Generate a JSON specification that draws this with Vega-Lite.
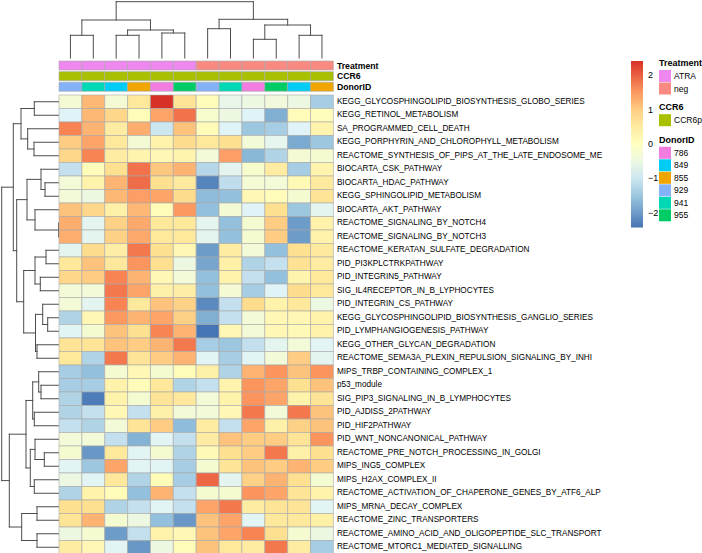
{
 "$schema": "https://vega.github.io/schema/vega-lite/v6.json",
 "padding": 0,
 "background": "white",
 "columns": 2,
 "spacing": {"row": 2.5, "column": 0},
 "bounds": "flush",
 "resolve": {"scale": {"color": "independent"}, "legend": {"color": "independent"}},
 "config": {"view": {"stroke": null}, "font": "Liberation Sans"},
 "concat": [
  {"width": 58, "height": 57, "data": {"values": []}, "mark": "point"},
  {
   "width": 274.4, "height": 57,
   "data": {"values": [
    {"c1":1,"c2":2,"h1":22.7,"h2":22.7},{"c1":1,"c2":1,"h1":0,"h2":22.7},{"c1":2,"c2":2,"h1":0,"h2":22.7},
    {"c1":3,"c2":4,"h1":22.7,"h2":22.7},{"c1":3,"c2":3,"h1":0,"h2":22.7},{"c1":4,"c2":4,"h1":0,"h2":22.7},
    {"c1":5,"c2":6,"h1":25,"h2":25},{"c1":5,"c2":5,"h1":0,"h2":25},{"c1":6,"c2":6,"h1":0,"h2":25},
    {"c1":3.5,"c2":5.5,"h1":28,"h2":28},{"c1":3.5,"c2":3.5,"h1":22.7,"h2":28},{"c1":5.5,"c2":5.5,"h1":25,"h2":28},
    {"c1":1.5,"c2":4.5,"h1":38,"h2":38},{"c1":1.5,"c2":1.5,"h1":22.7,"h2":38},{"c1":4.5,"c2":4.5,"h1":28,"h2":38},
    {"c1":7,"c2":8,"h1":29.3,"h2":29.3},{"c1":7,"c2":7,"h1":0,"h2":29.3},{"c1":8,"c2":8,"h1":0,"h2":29.3},
    {"c1":9,"c2":10,"h1":18.7,"h2":18.7},{"c1":9,"c2":9,"h1":0,"h2":18.7},{"c1":10,"c2":10,"h1":0,"h2":18.7},
    {"c1":11,"c2":12,"h1":22.7,"h2":22.7},{"c1":11,"c2":11,"h1":0,"h2":22.7},{"c1":12,"c2":12,"h1":0,"h2":22.7},
    {"c1":9.5,"c2":11.5,"h1":33,"h2":33},{"c1":9.5,"c2":9.5,"h1":18.7,"h2":33},{"c1":11.5,"c2":11.5,"h1":22.7,"h2":33},
    {"c1":7.5,"c2":10.5,"h1":38.7,"h2":38.7},{"c1":7.5,"c2":7.5,"h1":29.3,"h2":38.7},{"c1":10.5,"c2":10.5,"h1":33,"h2":38.7},
    {"c1":3,"c2":9,"h1":56.3,"h2":56.3},{"c1":3,"c2":3,"h1":38,"h2":56.3},{"c1":9,"c2":9,"h1":38.7,"h2":56.3}
   ]},
   "mark": {"type": "rule", "color": "#4d4d4d", "strokeWidth": 1, "strokeCap": "square"},
   "encoding": {
    "x": {"field": "c1", "type": "quantitative", "scale": {"domain": [0.5, 12.5], "nice": false, "zero": false}, "axis": null},
    "x2": {"field": "c2"},
    "y": {"field": "h1", "type": "quantitative", "scale": {"domain": [0, 57], "nice": false, "zero": false}, "axis": null},
    "y2": {"field": "h2"}
   }
  },
  {"width": 58, "height": 31.3, "data": {"values": []}, "mark": "point"},
  {
   "width": 274.4, "height": 31.3,
   "data": {"values": [
    {"sample":"S01","Treatment":"ATRA","CCR6":"CCR6p","DonorID":"929"},
    {"sample":"S02","Treatment":"ATRA","CCR6":"CCR6p","DonorID":"941"},
    {"sample":"S03","Treatment":"ATRA","CCR6":"CCR6p","DonorID":"849"},
    {"sample":"S04","Treatment":"ATRA","CCR6":"CCR6p","DonorID":"855"},
    {"sample":"S05","Treatment":"ATRA","CCR6":"CCR6p","DonorID":"786"},
    {"sample":"S06","Treatment":"ATRA","CCR6":"CCR6p","DonorID":"955"},
    {"sample":"S07","Treatment":"neg","CCR6":"CCR6p","DonorID":"929"},
    {"sample":"S08","Treatment":"neg","CCR6":"CCR6p","DonorID":"941"},
    {"sample":"S09","Treatment":"neg","CCR6":"CCR6p","DonorID":"786"},
    {"sample":"S10","Treatment":"neg","CCR6":"CCR6p","DonorID":"955"},
    {"sample":"S11","Treatment":"neg","CCR6":"CCR6p","DonorID":"849"},
    {"sample":"S12","Treatment":"neg","CCR6":"CCR6p","DonorID":"855"}
   ]},
   "encoding": {
    "x": {"field": "sample", "type": "nominal", "scale": {"paddingInner": 0, "paddingOuter": 0}, "axis": null}
   },
   "layer": [
    {
     "mark": {"type": "rect", "stroke": "#a8a8a8", "strokeWidth": 0.6},
     "encoding": {
      "y": {"datum": "Treatment", "type": "nominal", "scale": {"domain": ["Treatment", "CCR6", "DonorID"], "paddingInner": 0.15, "paddingOuter": 0.05},
            "axis": {"orient": "right", "title": null, "ticks": false, "domain": false, "labelPadding": 3, "labelFontSize": 8.7, "labelFontWeight": "bold", "labelColor": "#000"}},
      "color": {"field": "Treatment", "type": "nominal", "scale": {"domain": ["ATRA", "neg"], "range": ["#EE88EE", "#F88A82"]},
                "legend": {"orient": "none", "legendX": 600, "legendY": -1.5, "title": "Treatment", "titleFontSize": 9, "titleFontWeight": "bold", "titleColor": "#000", "titlePadding": 2, "labelFontSize": 8.5, "labelColor": "#000", "symbolType": "square", "symbolSize": 144, "symbolStrokeWidth": 0, "symbolOpacity": 1, "rowPadding": 0.5, "labelOffset": 3, "padding": 0}}
     }
    },
    {
     "mark": {"type": "rect", "stroke": "#a8a8a8", "strokeWidth": 0.6},
     "encoding": {
      "y": {"datum": "CCR6", "type": "nominal", "scale": {"domain": ["Treatment", "CCR6", "DonorID"], "paddingInner": 0.15, "paddingOuter": 0.05},
            "axis": {"orient": "right", "title": null, "ticks": false, "domain": false, "labelPadding": 3, "labelFontSize": 8.7, "labelFontWeight": "bold", "labelColor": "#000"}},
      "color": {"field": "CCR6", "type": "nominal", "scale": {"domain": ["CCR6p"], "range": ["#A8C000"]},
                "legend": {"orient": "none", "legendX": 600, "legendY": 42.7, "title": "CCR6", "titleFontSize": 9, "titleFontWeight": "bold", "titleColor": "#000", "titlePadding": 2, "labelFontSize": 8.5, "labelColor": "#000", "symbolType": "square", "symbolSize": 144, "symbolStrokeWidth": 0, "symbolOpacity": 1, "rowPadding": 0.5, "labelOffset": 3, "padding": 0}}
     }
    },
    {
     "mark": {"type": "rect", "stroke": "#a8a8a8", "strokeWidth": 0.6},
     "encoding": {
      "y": {"datum": "DonorID", "type": "nominal", "scale": {"domain": ["Treatment", "CCR6", "DonorID"], "paddingInner": 0.15, "paddingOuter": 0.05},
            "axis": {"orient": "right", "title": null, "ticks": false, "domain": false, "labelPadding": 3, "labelFontSize": 8.7, "labelFontWeight": "bold", "labelColor": "#000"}},
      "color": {"field": "DonorID", "type": "nominal", "scale": {"domain": ["786", "849", "855", "929", "941", "955"], "range": ["#F27CE0", "#00CCF5", "#F0A500", "#84B2F8", "#00D8B5", "#00CC66"]},
                "legend": {"orient": "none", "legendX": 600, "legendY": 75.3, "title": "DonorID", "titleFontSize": 9, "titleFontWeight": "bold", "titleColor": "#000", "titlePadding": 2, "labelFontSize": 8.5, "labelColor": "#000", "symbolType": "square", "symbolSize": 144, "symbolStrokeWidth": 0, "symbolOpacity": 1, "rowPadding": 0.5, "labelOffset": 3, "padding": 0}}
     }
    }
   ],
   "resolve": {"scale": {"color": "independent"}, "legend": {"color": "independent"}}
  },
  {
   "width": 58, "height": 459,
   "data": {"values": [
    {"h1":24.7,"h2":24.7,"r1":1,"r2":2},{"h1":0,"h2":24.7,"r1":1,"r2":1},{"h1":0,"h2":24.7,"r1":2,"r2":2},
    {"h1":25,"h2":25,"r1":4,"r2":5},{"h1":0,"h2":25,"r1":4,"r2":4},{"h1":0,"h2":25,"r1":5,"r2":5},
    {"h1":31.3,"h2":31.3,"r1":3,"r2":4.5},{"h1":0,"h2":31.3,"r1":3,"r2":3},{"h1":25,"h2":31.3,"r1":4.5,"r2":4.5},
    {"h1":38,"h2":38,"r1":1.5,"r2":3.75},{"h1":24.7,"h2":38,"r1":1.5,"r2":1.5},{"h1":31.3,"h2":38,"r1":3.75,"r2":3.75},
    {"h1":14,"h2":14,"r1":7,"r2":8},{"h1":0,"h2":14,"r1":7,"r2":7},{"h1":0,"h2":14,"r1":8,"r2":8},
    {"h1":18,"h2":18,"r1":6,"r2":7.5},{"h1":0,"h2":18,"r1":6,"r2":6},{"h1":14,"h2":18,"r1":7.5,"r2":7.5},
    {"h1":0.4,"h2":0.4,"r1":10,"r2":11},{"h1":0,"h2":0.4,"r1":10,"r2":10},{"h1":0,"h2":0.4,"r1":11,"r2":11},
    {"h1":24,"h2":24,"r1":9,"r2":10.5},{"h1":0,"h2":24,"r1":9,"r2":9},{"h1":0.4,"h2":24,"r1":10.5,"r2":10.5},
    {"h1":32,"h2":32,"r1":6.75,"r2":9.75},{"h1":18,"h2":32,"r1":6.75,"r2":6.75},{"h1":24,"h2":32,"r1":9.75,"r2":9.75},
    {"h1":13,"h2":13,"r1":12,"r2":13},{"h1":0,"h2":13,"r1":12,"r2":12},{"h1":0,"h2":13,"r1":13,"r2":13},
    {"h1":18.7,"h2":18.7,"r1":14,"r2":15},{"h1":0,"h2":18.7,"r1":14,"r2":14},{"h1":0,"h2":18.7,"r1":15,"r2":15},
    {"h1":24,"h2":24,"r1":12.5,"r2":14.5},{"h1":13,"h2":24,"r1":12.5,"r2":12.5},{"h1":18.7,"h2":24,"r1":14.5,"r2":14.5},
    {"h1":11.3,"h2":11.3,"r1":17,"r2":18},{"h1":0,"h2":11.3,"r1":17,"r2":17},{"h1":0,"h2":11.3,"r1":18,"r2":18},
    {"h1":16.3,"h2":16.3,"r1":16,"r2":17.5},{"h1":0,"h2":16.3,"r1":16,"r2":16},{"h1":11.3,"h2":16.3,"r1":17.5,"r2":17.5},
    {"h1":22,"h2":22,"r1":19,"r2":20},{"h1":0,"h2":22,"r1":19,"r2":19},{"h1":0,"h2":22,"r1":20,"r2":20},
    {"h1":23.5,"h2":23.5,"r1":16.75,"r2":19.5},{"h1":16.3,"h2":23.5,"r1":16.75,"r2":16.75},{"h1":22,"h2":23.5,"r1":19.5,"r2":19.5},
    {"h1":35.3,"h2":35.3,"r1":13.5,"r2":18.125},{"h1":24,"h2":35.3,"r1":13.5,"r2":13.5},{"h1":23.5,"h2":35.3,"r1":18.125,"r2":18.125},
    {"h1":42.3,"h2":42.3,"r1":8.25,"r2":15.8125},{"h1":32,"h2":42.3,"r1":8.25,"r2":8.25},{"h1":35.3,"h2":42.3,"r1":15.8125,"r2":15.8125},
    {"h1":45.7,"h2":45.7,"r1":2.625,"r2":12.03125},{"h1":38,"h2":45.7,"r1":2.625,"r2":2.625},{"h1":42.3,"h2":45.7,"r1":12.03125,"r2":12.03125},
    {"h1":18,"h2":18,"r1":22,"r2":23},{"h1":0,"h2":18,"r1":22,"r2":22},{"h1":0,"h2":18,"r1":23,"r2":23},
    {"h1":20.3,"h2":20.3,"r1":21,"r2":22.5},{"h1":0,"h2":20.3,"r1":21,"r2":21},{"h1":18,"h2":20.3,"r1":22.5,"r2":22.5},
    {"h1":24.7,"h2":24.7,"r1":24,"r2":25},{"h1":0,"h2":24.7,"r1":24,"r2":24},{"h1":0,"h2":24.7,"r1":25,"r2":25},
    {"h1":26.3,"h2":26.3,"r1":21.75,"r2":24.5},{"h1":20.3,"h2":26.3,"r1":21.75,"r2":21.75},{"h1":24.7,"h2":26.3,"r1":24.5,"r2":24.5},
    {"h1":14.7,"h2":14.7,"r1":27,"r2":28},{"h1":0,"h2":14.7,"r1":27,"r2":27},{"h1":0,"h2":14.7,"r1":28,"r2":28},
    {"h1":24,"h2":24,"r1":26,"r2":27.5},{"h1":0,"h2":24,"r1":26,"r2":26},{"h1":14.7,"h2":24,"r1":27.5,"r2":27.5},
    {"h1":24.7,"h2":24.7,"r1":29,"r2":30},{"h1":0,"h2":24.7,"r1":29,"r2":29},{"h1":0,"h2":24.7,"r1":30,"r2":30},
    {"h1":28.7,"h2":28.7,"r1":26.75,"r2":29.5},{"h1":24,"h2":28.7,"r1":26.75,"r2":26.75},{"h1":24.7,"h2":28.7,"r1":29.5,"r2":29.5},
    {"h1":33,"h2":33,"r1":23.125,"r2":28.125},{"h1":26.3,"h2":33,"r1":23.125,"r2":23.125},{"h1":28.7,"h2":33,"r1":28.125,"r2":28.125},
    {"h1":22,"h2":22,"r1":31,"r2":32},{"h1":0,"h2":22,"r1":31,"r2":31},{"h1":0,"h2":22,"r1":32,"r2":32},
    {"h1":22,"h2":22,"r1":33,"r2":34},{"h1":0,"h2":22,"r1":33,"r2":33},{"h1":0,"h2":22,"r1":34,"r2":34},
    {"h1":37.3,"h2":37.3,"r1":31.5,"r2":33.5},{"h1":22,"h2":37.3,"r1":31.5,"r2":31.5},{"h1":22,"h2":37.3,"r1":33.5,"r2":33.5},
    {"h1":49.7,"h2":49.7,"r1":25.625,"r2":32.5},{"h1":33,"h2":49.7,"r1":25.625,"r2":25.625},{"h1":37.3,"h2":49.7,"r1":32.5,"r2":32.5},
    {"h1":57.3,"h2":57.3,"r1":7.328125,"r2":29.0625},{"h1":45.7,"h2":57.3,"r1":7.328125,"r2":7.328125},{"h1":49.7,"h2":57.3,"r1":29.0625,"r2":29.0625}
   ]},
   "mark": {"type": "rule", "color": "#4d4d4d", "strokeWidth": 1, "strokeCap": "square"},
   "encoding": {
    "x": {"field": "h1", "type": "quantitative", "scale": {"domain": [0, 58], "reverse": true, "nice": false, "zero": false}, "axis": null},
    "x2": {"field": "h2"},
    "y": {"field": "r1", "type": "quantitative", "scale": {"domain": [0.5, 34.5], "reverse": true, "nice": false, "zero": false}, "axis": null},
    "y2": {"field": "r2"}
   }
  },
  {
   "width": 274.4, "height": 459,
   "data": {"values": [
    {"pathway":"KEGG_GLYCOSPHINGOLIPID_BIOSYNTHESIS_GLOBO_SERIES","S01":-0.3,"S02":1.2,"S03":-0.3,"S04":0.6,"S05":2.42,"S06":0.7,"S07":0.1,"S08":-0.6,"S09":-0.5,"S10":-0.4,"S11":-0.5,"S12":-1.4},
    {"pathway":"KEGG_RETINOL_METABOLISM","S01":-0.8,"S02":1.2,"S03":0.9,"S04":0.1,"S05":1.4,"S06":1.85,"S07":-0.2,"S08":-0.5,"S09":-0.8,"S10":-1.8,"S11":0.1,"S12":0.05},
    {"pathway":"SA_PROGRAMMED_CELL_DEATH","S01":1.7,"S02":1.25,"S03":0.5,"S04":1.3,"S05":-1.0,"S06":1.1,"S07":0.1,"S08":-0.8,"S09":-1.5,"S10":-1.4,"S11":-0.8,"S12":0.3},
    {"pathway":"KEGG_PORPHYRIN_AND_CHLOROPHYLL_METABOLISM","S01":1.0,"S02":1.4,"S03":0.6,"S04":-0.3,"S05":0.35,"S06":0.85,"S07":0.6,"S08":0.8,"S09":-0.35,"S10":-0.65,"S11":-1.85,"S12":-1.5},
    {"pathway":"REACTOME_SYNTHESIS_OF_PIPS_AT_THE_LATE_ENDOSOME_ME","S01":0.9,"S02":1.7,"S03":0.5,"S04":0.3,"S05":0.2,"S06":0.3,"S07":-0.35,"S08":1.45,"S09":-1.7,"S10":-1.3,"S11":-0.3,"S12":-0.25},
    {"pathway":"BIOCARTA_CSK_PATHWAY","S01":-1.1,"S02":0.1,"S03":0.8,"S04":1.85,"S05":1.05,"S06":1.25,"S07":-1.25,"S08":-0.7,"S09":-0.2,"S10":0.5,"S11":-1.4,"S12":0.3},
    {"pathway":"BIOCARTA_HDAC_PATHWAY","S01":-0.35,"S02":0.35,"S03":1.25,"S04":1.9,"S05":0.8,"S06":0.55,"S07":-2.25,"S08":-1.15,"S09":-0.3,"S10":-0.35,"S11":0.15,"S12":0.55},
    {"pathway":"KEGG_SPHINGOLIPID_METABOLISM","S01":-0.35,"S02":-0.5,"S03":1.2,"S04":1.45,"S05":1.4,"S06":0.85,"S07":-1.65,"S08":-1.6,"S09":0.2,"S10":0.1,"S11":-0.25,"S12":0.7},
    {"pathway":"BIOCARTA_AKT_PATHWAY","S01":1.1,"S02":0.9,"S03":0.4,"S04":1.2,"S05":0.1,"S06":1.5,"S07":-1.6,"S08":-0.3,"S09":-0.8,"S10":0.8,"S11":-1.5,"S12":-0.7},
    {"pathway":"REACTOME_SIGNALING_BY_NOTCH4","S01":1.3,"S02":-0.7,"S03":0.95,"S04":1.35,"S05":0.6,"S06":0.6,"S07":-0.7,"S08":-1.6,"S09":-0.25,"S10":1.0,"S11":-2.0,"S12":0.35},
    {"pathway":"REACTOME_SIGNALING_BY_NOTCH3","S01":1.3,"S02":-0.7,"S03":0.95,"S04":1.35,"S05":0.6,"S06":0.6,"S07":-0.7,"S08":-1.6,"S09":-0.25,"S10":1.0,"S11":-2.0,"S12":0.35},
    {"pathway":"REACTOME_KERATAN_SULFATE_DEGRADATION","S01":-0.7,"S02":0.85,"S03":0.45,"S04":1.8,"S05":0.8,"S06":0.2,"S07":-2.0,"S08":0.5,"S09":-0.35,"S10":-1.6,"S11":0.8,"S12":0.55},
    {"pathway":"PID_PI3KPLCTRKPATHWAY","S01":0.6,"S02":1.1,"S03":0.6,"S04":1.55,"S05":0.8,"S06":-0.5,"S07":-1.9,"S08":0.4,"S09":-1.3,"S10":-1.1,"S11":0.75,"S12":0.5},
    {"pathway":"PID_INTEGRIN5_PATHWAY","S01":0.9,"S02":1.0,"S03":1.7,"S04":1.25,"S05":0.2,"S06":-0.35,"S07":-1.6,"S08":0.35,"S09":-1.1,"S10":-1.6,"S11":0.3,"S12":0.6},
    {"pathway":"SIG_IL4RECEPTOR_IN_B_LYPHOCYTES","S01":-0.35,"S02":-0.35,"S03":1.8,"S04":1.4,"S05":0.4,"S06":0.45,"S07":-1.6,"S08":-0.3,"S09":-1.4,"S10":-0.8,"S11":0.85,"S12":0.6},
    {"pathway":"PID_INTEGRIN_CS_PATHWAY","S01":-0.35,"S02":-0.7,"S03":1.7,"S04":0.6,"S05":1.1,"S06":0.95,"S07":-2.2,"S08":-1.1,"S09":0.85,"S10":0.35,"S11":0.6,"S12":-0.5},
    {"pathway":"KEGG_GLYCOSPHINGOLIPID_BIOSYNTHESIS_GANGLIO_SERIES","S01":-1.3,"S02":0.2,"S03":1.5,"S04":1.25,"S05":1.4,"S06":0.95,"S07":-1.8,"S08":-1.1,"S09":-0.35,"S10":0.2,"S11":0.2,"S12":0.35},
    {"pathway":"PID_LYMPHANGIOGENESIS_PATHWAY","S01":-0.75,"S02":-0.25,"S03":1.1,"S04":0.8,"S05":1.7,"S06":1.25,"S07":-2.43,"S08":0.2,"S09":-0.35,"S10":0.2,"S11":0.15,"S12":0.35},
    {"pathway":"KEGG_OTHER_GLYCAN_DEGRADATION","S01":0.7,"S02":0.7,"S03":1.1,"S04":1.0,"S05":1.25,"S06":1.8,"S07":-1.4,"S08":-1.5,"S09":-1.1,"S10":-0.7,"S11":-0.35,"S12":-0.75},
    {"pathway":"REACTOME_SEMA3A_PLEXIN_REPULSION_SIGNALING_BY_INHI","S01":0.6,"S02":-1.3,"S03":1.8,"S04":0.7,"S05":1.0,"S06":1.25,"S07":-0.75,"S08":-1.4,"S09":-0.75,"S10":-0.35,"S11":1.0,"S12":-0.7},
    {"pathway":"MIPS_TRBP_CONTAINING_COMPLEX_1","S01":-1.4,"S02":-1.6,"S03":-0.25,"S04":0.2,"S05":-0.25,"S06":0.1,"S07":0.4,"S08":-1.3,"S09":1.25,"S10":1.55,"S11":1.1,"S12":1.55},
    {"pathway":"p53_module","S01":-1.4,"S02":-1.4,"S03":0.35,"S04":0.1,"S05":0.6,"S06":-1.3,"S07":-1.1,"S08":0.3,"S09":1.55,"S10":1.4,"S11":0.8,"S12":1.1},
    {"pathway":"SIG_PIP3_SIGNALING_IN_B_LYMPHOCYTES","S01":-1.3,"S02":-2.35,"S03":0.35,"S04":-0.25,"S05":0.7,"S06":0.6,"S07":-0.35,"S08":0.35,"S09":1.55,"S10":1.4,"S11":0.35,"S12":0.7},
    {"pathway":"PID_AJDISS_2PATHWAY","S01":-1.3,"S02":-1.1,"S03":0.2,"S04":-1.1,"S05":0.4,"S06":-0.35,"S07":-0.35,"S08":0.2,"S09":1.8,"S10":-0.35,"S11":1.8,"S12":1.1},
    {"pathway":"PID_HIF2PATHWAY","S01":-1.1,"S02":-1.3,"S03":-0.35,"S04":0.7,"S05":1.0,"S06":-1.65,"S07":0.5,"S08":-1.1,"S09":1.4,"S10":0.4,"S11":0.95,"S12":1.1},
    {"pathway":"PID_WNT_NONCANONICAL_PATHWAY","S01":-0.35,"S02":-0.35,"S03":-1.1,"S04":-1.75,"S05":-0.75,"S06":-1.1,"S07":0.5,"S08":1.1,"S09":1.0,"S10":1.0,"S11":0.7,"S12":1.55},
    {"pathway":"REACTOME_PRE_NOTCH_PROCESSING_IN_GOLGI","S01":-0.25,"S02":-2.05,"S03":0.6,"S04":-0.75,"S05":-0.25,"S06":-1.3,"S07":0.15,"S08":0.8,"S09":1.0,"S10":1.8,"S11":0.4,"S12":0.8},
    {"pathway":"MIPS_ING5_COMPLEX","S01":-0.75,"S02":-1.5,"S03":1.4,"S04":-0.75,"S05":-0.75,"S06":-1.4,"S07":-0.25,"S08":0.7,"S09":1.1,"S10":1.0,"S11":1.25,"S12":1.0},
    {"pathway":"MIPS_H2AX_COMPLEX_II","S01":-0.5,"S02":-0.75,"S03":0.6,"S04":-1.3,"S05":0.1,"S06":-1.4,"S07":1.95,"S08":-0.7,"S09":0.95,"S10":1.25,"S11":0.8,"S12":-0.25},
    {"pathway":"REACTOME_ACTIVATION_OF_CHAPERONE_GENES_BY_ATF6_ALP","S01":-1.3,"S02":0.35,"S03":0.1,"S04":-1.6,"S05":1.25,"S06":-1.1,"S07":-0.25,"S08":-0.25,"S09":1.55,"S10":1.4,"S11":0.7,"S12":0.35},
    {"pathway":"MIPS_MRNA_DECAY_COMPLEX","S01":0.8,"S02":0.8,"S03":-1.3,"S04":-1.1,"S05":-0.75,"S06":-1.1,"S07":1.4,"S08":1.8,"S09":0.5,"S10":0.7,"S11":0.7,"S12":-0.75},
    {"pathway":"REACTOME_ZINC_TRANSPORTERS","S01":0.7,"S02":1.25,"S03":-0.25,"S04":-0.5,"S05":-1.6,"S06":-2.05,"S07":1.1,"S08":1.4,"S09":-0.75,"S10":0.6,"S11":0.6,"S12":0.4},
    {"pathway":"REACTOME_AMINO_ACID_AND_OLIGOPEPTIDE_SLC_TRANSPORT","S01":-0.5,"S02":-0.25,"S03":-2.0,"S04":-1.1,"S05":0.35,"S06":0.2,"S07":1.1,"S08":1.4,"S09":1.7,"S10":0.8,"S11":-0.25,"S12":-0.5},
    {"pathway":"REACTOME_MTORC1_MEDIATED_SIGNALLING","S01":0.5,"S02":0.2,"S03":-0.75,"S04":-2.05,"S05":-0.5,"S06":0.1,"S07":1.1,"S08":0.6,"S09":0.5,"S10":1.8,"S11":0.5,"S12":-1.4}
   ]},
   "transform": [{"fold": ["S01","S02","S03","S04","S05","S06","S07","S08","S09","S10","S11","S12"], "as": ["sample", "value"]}],
   "mark": {"type": "rect", "stroke": "#a8a8a8", "strokeWidth": 0.6},
   "encoding": {
    "x": {"field": "sample", "type": "nominal", "scale": {"paddingInner": 0, "paddingOuter": 0}, "axis": null},
    "y": {"field": "pathway", "type": "nominal", "sort": null, "scale": {"paddingInner": 0, "paddingOuter": 0},
          "axis": {"orient": "right", "title": null, "ticks": false, "domain": false, "labelPadding": 3, "labelFontSize": 8.2, "labelColor": "#000", "labelLimit": 400}},
    "color": {"field": "value", "type": "quantitative",
              "scale": {"domain": [-2.43, -1.62, -0.81, 0, 0.81, 1.62, 2.42], "range": ["#4575B4", "#91BFDB", "#E0F3F8", "#FFFFBF", "#FEE090", "#FC8D59", "#D73027"], "interpolate": "rgb"},
              "legend": {"orient": "none", "legendX": 572, "legendY": -34, "title": null, "direction": "vertical", "gradientLength": 166.4, "gradientThickness": 12, "gradientStrokeWidth": 0, "values": [-2, -1, 0, 1, 2], "labelFontSize": 9, "labelColor": "#000", "labelOffset": 5, "padding": 0}}
   }
  }
 ]
}
